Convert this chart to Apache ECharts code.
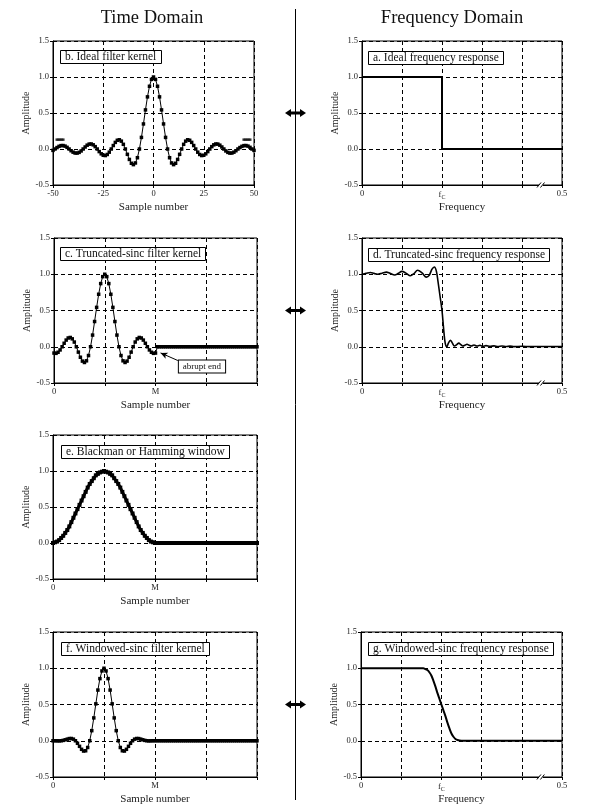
<!DOCTYPE html>
<html>
<head>
<meta charset="utf-8">
<script src="https://cdn.jsdelivr.net/npm/echarts@6/dist/echarts.min.js"></script>
<style>html,body{margin:0;padding:0;background:#fff}#c{width:600px;height:810px}</style>
</head>
<body>
<div id="c"></div>
<script>
// ---------------- data ----------------
const timeTicksB = [-50, -25, 0, 25, 50];
const kernelStartB = -50;
// b. ideal filter kernel, samples -50..50
const ampB = [-0.019,0.000,0.020,0.037,0.047,0.048,0.040,0.023,0.000,-0.024,-0.044,-0.056,-0.057,-0.047,-0.027,0.000,0.028,0.053,0.068,0.070,0.058,0.033,0.000,-0.036,-0.067,-0.087,-0.091,-0.076,-0.044,0.000,0.048,0.092,0.121,0.128,0.109,0.065,0.000,-0.074,-0.145,-0.198,-0.217,-0.194,-0.121,0.000,0.161,0.348,0.543,0.724,0.871,0.967,
1.000,
0.967,0.871,0.724,0.543,0.348,0.161,0.000,-0.121,-0.194,-0.217,-0.198,-0.145,-0.074,0.000,0.065,0.109,0.128,0.121,0.092,0.048,0.000,-0.044,-0.076,-0.091,-0.087,-0.067,-0.036,0.000,0.033,0.058,0.070,0.068,0.053,0.028,0.000,-0.027,-0.047,-0.057,-0.056,-0.044,-0.024,0.000,0.020,0.037,0.047,0.048,0.040,0.023,0.000,-0.019];
// "continues" marks in panel b
const contDotsBX = [-48, -47, -46, -45, 45, 46, 47, 48];
const contDotsBY = [0.13, 0.13, 0.13, 0.13, 0.13, 0.13, 0.13, 0.13];

// kernel panels c, e, f: samples 0..100 (M = 50)
const kernelLabels = {0: '0', 50: 'M'};
const zeroTail = [0,0,0,0,0,0,0,0,0,0,0,0,0,0,0,0,0,0,0,0,0,0,0,0,0,0,0,0,0,0,0,0,0,0,0,0,0,0,0,0,0,0,0,0,0,0,0,0,0,0];
const ampCHead = [-0.087,-0.091,-0.076,-0.044,0.000,0.048,0.092,0.121,0.128,0.109,0.065,0.000,-0.074,-0.145,-0.198,-0.217,-0.194,-0.121,0.000,0.161,0.348,0.543,0.724,0.871,0.967,1.000,0.967,0.871,0.724,0.543,0.348,0.161,0.000,-0.121,-0.194,-0.217,-0.198,-0.145,-0.074,0.000,0.065,0.109,0.128,0.121,0.092,0.048,0.000,-0.044,-0.076,-0.091,-0.087];
const ampEHead = [0.00,0.01,0.02,0.04,0.07,0.10,0.14,0.18,0.23,0.29,0.35,0.41,0.47,0.53,0.59,0.65,0.71,0.77,0.82,0.86,0.90,0.94,0.96,0.98,0.99,1.00,0.99,0.98,0.96,0.94,0.90,0.86,0.82,0.77,0.71,0.65,0.59,0.53,0.47,0.41,0.35,0.29,0.23,0.18,0.14,0.10,0.07,0.04,0.02,0.01,0.00];
const ampFHead = [0,0,-0.001,-0.002,0,0.005,0.013,0.022,0.030,0.031,0.022,0,-0.035,-0.077,-0.118,-0.142,-0.138,-0.093,0,0.139,0.315,0.509,0.699,0.857,0.963,1.000,0.963,0.857,0.699,0.509,0.315,0.139,0,-0.093,-0.138,-0.142,-0.118,-0.077,-0.035,0,0.022,0.031,0.030,0.022,0.013,0.005,0,-0.002,-0.001,0,0];

// frequency panels
const freqLabels = {0: '0', 0.2: '{f|f}{s|C}', 0.5: '0.5'};
const freqA = [0, 0.2, 0.2, 0.5];
const ampA  = [1, 1, 0, 0];
const freqD = [0,0.01,0.021,0.03,0.039,0.05,0.061,0.07,0.082,0.09,0.1,0.11,0.121,0.13,0.139,0.15,0.161,0.168,0.175,0.181,0.186,0.19,0.195,0.2,0.204,0.208,0.212,0.216,0.221,0.226,0.231,0.237,0.242,0.247,0.252,0.257,0.2625,0.268,0.273,0.28,0.287,0.295,0.302,0.31,0.32,0.33,0.34,0.35,0.36,0.37,0.38,0.40,0.42,0.45,0.5];
const ampD  = [1.00,1.012,1.025,1.012,1.0,1.015,1.03,1.012,0.99,1.01,1.04,1.015,0.98,1.01,1.055,1.02,0.96,0.985,1.07,1.10,1.04,0.9,0.7,0.5,0.25,0.05,0.0,0.05,0.09,0.05,0.01,0.03,0.05,0.03,0.01,0.02,0.035,0.02,0.01,0.025,0.01,0.02,0.005,0.015,0.005,0.012,0.004,0.01,0.003,0.008,0.002,0.006,0.002,0.004,0.002];
const freqG = [0,0.1,0.155,0.16,0.165,0.17,0.175,0.18,0.185,0.19,0.195,0.2,0.205,0.21,0.215,0.22,0.225,0.23,0.235,0.24,0.245,0.25,0.5];
const ampG  = [1,1,1.0,0.99,0.975,0.945,0.9,0.83,0.75,0.66,0.58,0.5,0.42,0.34,0.25,0.17,0.1,0.055,0.025,0.01,0.002,0,0];

const panelTitles = ['b. Ideal filter kernel','a. Ideal frequency response','c. Truncated-sinc filter kernel','d. Truncated-sinc frequency response','e. Blackman or Hamming window','f. Windowed-sinc filter kernel','g. Windowed-sinc frequency response'];

// ---------------- layout ----------------
const SERIF = "'Liberation Serif','Times New Roman',serif";
const grids = [
  {left:53, top:41, width:201, height:144},   // b
  {left:362, top:41, width:200, height:144},  // a
  {left:54, top:238, width:203, height:145},  // c
  {left:362, top:238, width:200, height:145}, // d
  {left:53, top:435, width:204, height:144},  // e
  {left:53, top:632, width:204, height:145},  // f
  {left:361, top:632, width:201, height:145}  // g
];
const kinds = ['timeB','freq','kernel','freq','kernel','kernel','freq'];
const titlePos = [[60,50],[368,51],[60,247],[368,248],[61,445],[61,642],[368,642]];

const dashed = {show:true, lineStyle:{color:'#000', type:[4,3], width:1}};
const near = (a,b) => Math.abs(a-b) < 1e-9;

const xAxes = kinds.map((k,i) => {
  const base = {
    gridIndex:i, type:'value', splitLine:dashed,
    axisLine:{show:true, onZero:false, lineStyle:{color:'#000', width:1}},
    axisTick:{show:true, length:3, lineStyle:{color:'#000'}},
    nameLocation:'middle', nameGap:17,
    nameTextStyle:{fontFamily:SERIF, fontSize:11, color:'#222'},
    axisLabel:{fontFamily:SERIF, fontSize:8.5, color:'#222', margin:4, showMinLabel:true, showMaxLabel:true}
  };
  if (k === 'timeB') {
    return Object.assign(base, {min:timeTicksB[0], max:timeTicksB[timeTicksB.length-1], interval:25, name:'Sample number'});
  } else if (k === 'kernel') {
    base.axisLabel.formatter = v => kernelLabels[v] !== undefined ? kernelLabels[v] : '';
    return Object.assign(base, {min:0, max:100, interval:25, name:'Sample number'});
  } else {
    base.axisLabel.formatter = v => {
      for (const key in freqLabels) if (near(v, +key)) return freqLabels[key];
      return '';
    };
    base.axisLabel.rich = {
      f:{fontFamily:SERIF, fontSize:8.5, color:'#222'},
      s:{fontFamily:SERIF, fontSize:6, color:'#222', padding:[5,0,0,0], verticalAlign:'bottom'}
    };
    return Object.assign(base, {min:0, max:0.5, interval:0.1, name:'Frequency'});
  }
});

const yAxes = kinds.map((k,i) => ({
  gridIndex:i, type:'value', min:-0.5, max:1.5, interval:0.5,
  splitLine:dashed,
  axisLine:{show:true, onZero:false, lineStyle:{color:'#000', width:1}},
  axisTick:{show:true, length:3, lineStyle:{color:'#000'}},
  axisLabel:{fontFamily:SERIF, fontSize:8.5, color:'#222', margin:4, formatter:v => v.toFixed(1)},
  name:'Amplitude', nameLocation:'middle', nameGap: k==='freq' ? 21 : 19, nameRotate:90,
  nameTextStyle:{fontFamily:SERIF, fontSize:10, color:'#222'}
}));

const kernelPts = arr => arr.map((v,i) => [i, v]);
const pairs = (xs, ys) => xs.map((x,i) => [x, ys[i]]);

const dotLine = (gi, data, size, lw) => ({
  type:'line', xAxisIndex:gi, yAxisIndex:gi, data,
  symbol:'rect', symbolSize:size, showSymbol:true,
  itemStyle:{color:'#000'}, lineStyle:{color:'#000', width:lw}, silent:true
});
const plainLine = (gi, data, lw) => ({
  type:'line', xAxisIndex:gi, yAxisIndex:gi, data, symbol:'none',
  lineStyle:{color:'#000', width:lw}, silent:true
});

const seriesC = dotLine(2, kernelPts(ampCHead.concat(zeroTail)), 3.5, 1);
seriesC.markLine = {
  silent:true, symbol:['none','arrow'], symbolSize:[5,7],
  label:{show:false}, lineStyle:{color:'#000', type:'solid', width:1},
  data:[[{coord:[61,-0.19]},{coord:[52.5,-0.085]}]]
};
seriesC.markPoint = {
  silent:true,
  data:[{coord:[72.9,-0.273], symbol:'rect', symbolSize:[1,1], itemStyle:{color:'rgba(0,0,0,0)'},
    label:{show:true, position:'inside', formatter:'abrupt end', fontFamily:SERIF, fontSize:9, color:'#111',
      backgroundColor:'#fff', borderColor:'#000', borderWidth:1, padding:[2,4,1,4]}}]
};

const series = [
  dotLine(0, ampB.map((v,i) => [kernelStartB + i, v]), 3.5, 1),
  {type:'scatter', xAxisIndex:0, yAxisIndex:0, data:pairs(contDotsBX, contDotsBY), symbol:'rect', symbolSize:[3,2.5], itemStyle:{color:'#000'}, silent:true},
  plainLine(1, pairs(freqA, ampA), 2),
  seriesC,
  Object.assign(plainLine(3, pairs(freqD, ampD), 1.6), {smooth:0.35}),
  dotLine(4, kernelPts(ampEHead.concat(zeroTail)), 4, 3),
  dotLine(5, kernelPts(ampFHead.concat(zeroTail)), 3.5, 1),
  Object.assign(plainLine(6, pairs(freqG, ampG), 2), {smooth:0.3})
];

const titles = panelTitles.map((t,i) => ({
  text:t, left:titlePos[i][0], top:titlePos[i][1],
  textStyle:{fontFamily:SERIF, fontSize:11.5, fontWeight:'normal', color:'#111'},
  backgroundColor:'#fff', borderColor:'#000', borderWidth:1, padding:[1,5,1,5]
}));

const chart = echarts.init(document.getElementById('c'), null, {renderer:'canvas'});
chart.setOption({
  animation:false,
  backgroundColor:'#fff',
  title:titles,
  grid:grids.map(g => Object.assign({show:true, borderColor:'#000', borderWidth:1, backgroundColor:'transparent', containLabel:false}, g)),
  xAxis:xAxes, yAxis:yAxes, series
});

// ---------------- decorations ----------------
const g = [];
g.push({type:'text', x:152, y:18, style:{text:'Time Domain', font:'18.5px '+SERIF, fill:'#111', textAlign:'center', textVerticalAlign:'middle'}});
g.push({type:'text', x:452, y:18, style:{text:'Frequency Domain', font:'18.5px '+SERIF, fill:'#111', textAlign:'center', textVerticalAlign:'middle'}});
g.push({type:'line', shape:{x1:295.5, y1:9, x2:295.5, y2:800}, style:{stroke:'#000', lineWidth:1}});
// double arrows at the 0.5 level of time-domain rows that have a frequency partner
[0, 2, 5].forEach(gi => {
  const cy = chart.convertToPixel({gridIndex:gi}, [0, 0.5])[1];
  const cx = 295.5;
  g.push({type:'polygon', shape:{points:[[cx-10.5,cy],[cx-4.5,cy-4],[cx-4.5,cy-1.5],[cx+4.5,cy-1.5],[cx+4.5,cy-4],[cx+10.5,cy],[cx+4.5,cy+4],[cx+4.5,cy+1.5],[cx-4.5,cy+1.5],[cx-4.5,cy+4]]}, style:{fill:'#000'}, z:20});
});
// axis break marks near 0.45
[1, 3, 6].forEach(gi => {
  const p = chart.convertToPixel({gridIndex:gi}, [0.45, -0.5]);
  g.push({type:'rect', shape:{x:p[0]-3, y:p[1]-1.5, width:4, height:3}, style:{fill:'#fff'}, z:20});
  g.push({type:'line', shape:{x1:p[0]-5, y1:p[1]+2.5, x2:p[0]-1, y2:p[1]-2.5}, style:{stroke:'#000', lineWidth:1}, z:21});
  g.push({type:'line', shape:{x1:p[0]-1.5, y1:p[1]+2.5, x2:p[0]+2.5, y2:p[1]-2.5}, style:{stroke:'#000', lineWidth:1}, z:21});
});
chart.setOption({graphic:g});
</script>
</body>
</html>
